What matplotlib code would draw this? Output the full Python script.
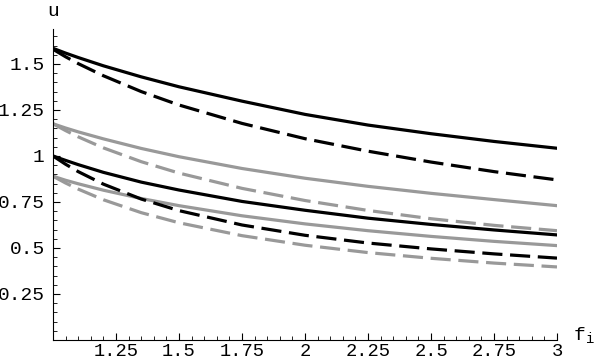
import numpy as np
import matplotlib
matplotlib.use("Agg")
import matplotlib.pyplot as plt
from matplotlib.ticker import MultipleLocator, FixedLocator

# 数据
f_i = [1.0, 1.05, 1.1, 1.2, 1.35, 1.5, 1.75, 2.0, 2.25, 2.5, 2.75, 3.0]

u_black_solid_hi = [1.585, 1.559, 1.535, 1.490, 1.430, 1.376, 1.298, 1.226, 1.168, 1.121, 1.079, 1.042]
u_black_dash_hi  = [1.58, 1.539, 1.502, 1.436, 1.350, 1.277, 1.177, 1.094, 1.026, 0.967, 0.915, 0.870]
u_gray_solid_hi  = [1.175, 1.152, 1.131, 1.093, 1.041, 0.996, 0.932, 0.879, 0.835, 0.797, 0.763, 0.730]
u_gray_dash_hi   = [1.175, 1.138, 1.104, 1.044, 0.969, 0.907, 0.824, 0.758, 0.704, 0.659, 0.623, 0.594]
u_black_solid_lo = [1.0, 0.976, 0.953, 0.911, 0.858, 0.815, 0.753, 0.705, 0.662, 0.628, 0.598, 0.571]
u_black_dash_lo  = [1.0, 0.955, 0.915, 0.847, 0.766, 0.703, 0.625, 0.569, 0.527, 0.495, 0.468, 0.445]
u_gray_solid_lo  = [0.89, 0.868, 0.849, 0.814, 0.769, 0.730, 0.675, 0.631, 0.594, 0.563, 0.536, 0.513]
u_gray_dash_lo   = [0.89, 0.853, 0.820, 0.762, 0.692, 0.637, 0.567, 0.515, 0.475, 0.444, 0.418, 0.397]

xticks = [1.25, 1.5, 1.75, 2, 2.25, 2.5, 2.75, 3]
xticklabels = ["1.25", "1.5", "1.75", "2", "2.25", "2.5", "2.75", "3"]
yticks = [0.25, 0.5, 0.75, 1, 1.25, 1.5]
yticklabels = ["0.25", "0.5", "0.75", "1", "1.25", "1.5"]

mono = "Liberation Mono"
gray = "#999999"
lw = 2.3
dash = (6.3, 2.4)

fig = plt.figure(figsize=(5.95, 3.6), dpi=100)
ax = fig.add_axes([53/595, 1-340/360, (557-53)/595, (340-29)/360])

ax.plot(f_i, u_gray_solid_lo, color=gray, lw=lw)
ax.plot(f_i, u_gray_dash_lo, color=gray, lw=lw, dashes=dash)
ax.plot(f_i, u_gray_solid_hi, color=gray, lw=lw)
ax.plot(f_i, u_gray_dash_hi, color=gray, lw=lw, dashes=dash)
ax.plot(f_i, u_black_solid_lo, color="black", lw=lw)
ax.plot(f_i, u_black_dash_lo, color="black", lw=lw, dashes=dash)
ax.plot(f_i, u_black_solid_hi, color="black", lw=lw)
ax.plot(f_i, u_black_dash_hi, color="black", lw=lw, dashes=dash)

ax.set_xlim(1, 3)
ax.set_ylim(0, 1.69)
ax.spines["top"].set_visible(False)
ax.spines["right"].set_visible(False)
for s in ("left", "bottom"):
    ax.spines[s].set_linewidth(0.8)

ax.xaxis.set_major_locator(FixedLocator(xticks))
ax.set_xticklabels(xticklabels, fontfamily=mono, fontsize=13.5)
ax.yaxis.set_major_locator(FixedLocator(yticks))
ax.set_yticklabels(yticklabels, fontfamily=mono, fontsize=14)
ax.xaxis.set_minor_locator(MultipleLocator(0.05))
ax.yaxis.set_minor_locator(MultipleLocator(0.05))
ax.tick_params(which="major", direction="in", length=5, width=0.8)
ax.tick_params(which="minor", direction="in", length=3, width=0.6)
ax.tick_params(axis="x", pad=2.5)
ax.tick_params(axis="y", pad=6)

# 轴标签
fig.text(53/595, 1-12/360, "u", fontfamily=mono, fontsize=14, ha="center", va="center")
fig.text(574/595, 1-340/360, "f", fontfamily=mono, fontsize=14, ha="left", va="baseline")
fig.text(586/595, 1-343/360, "i", fontfamily=mono, fontsize=10, ha="left", va="baseline")

fig.savefig("out.png", dpi=100)
